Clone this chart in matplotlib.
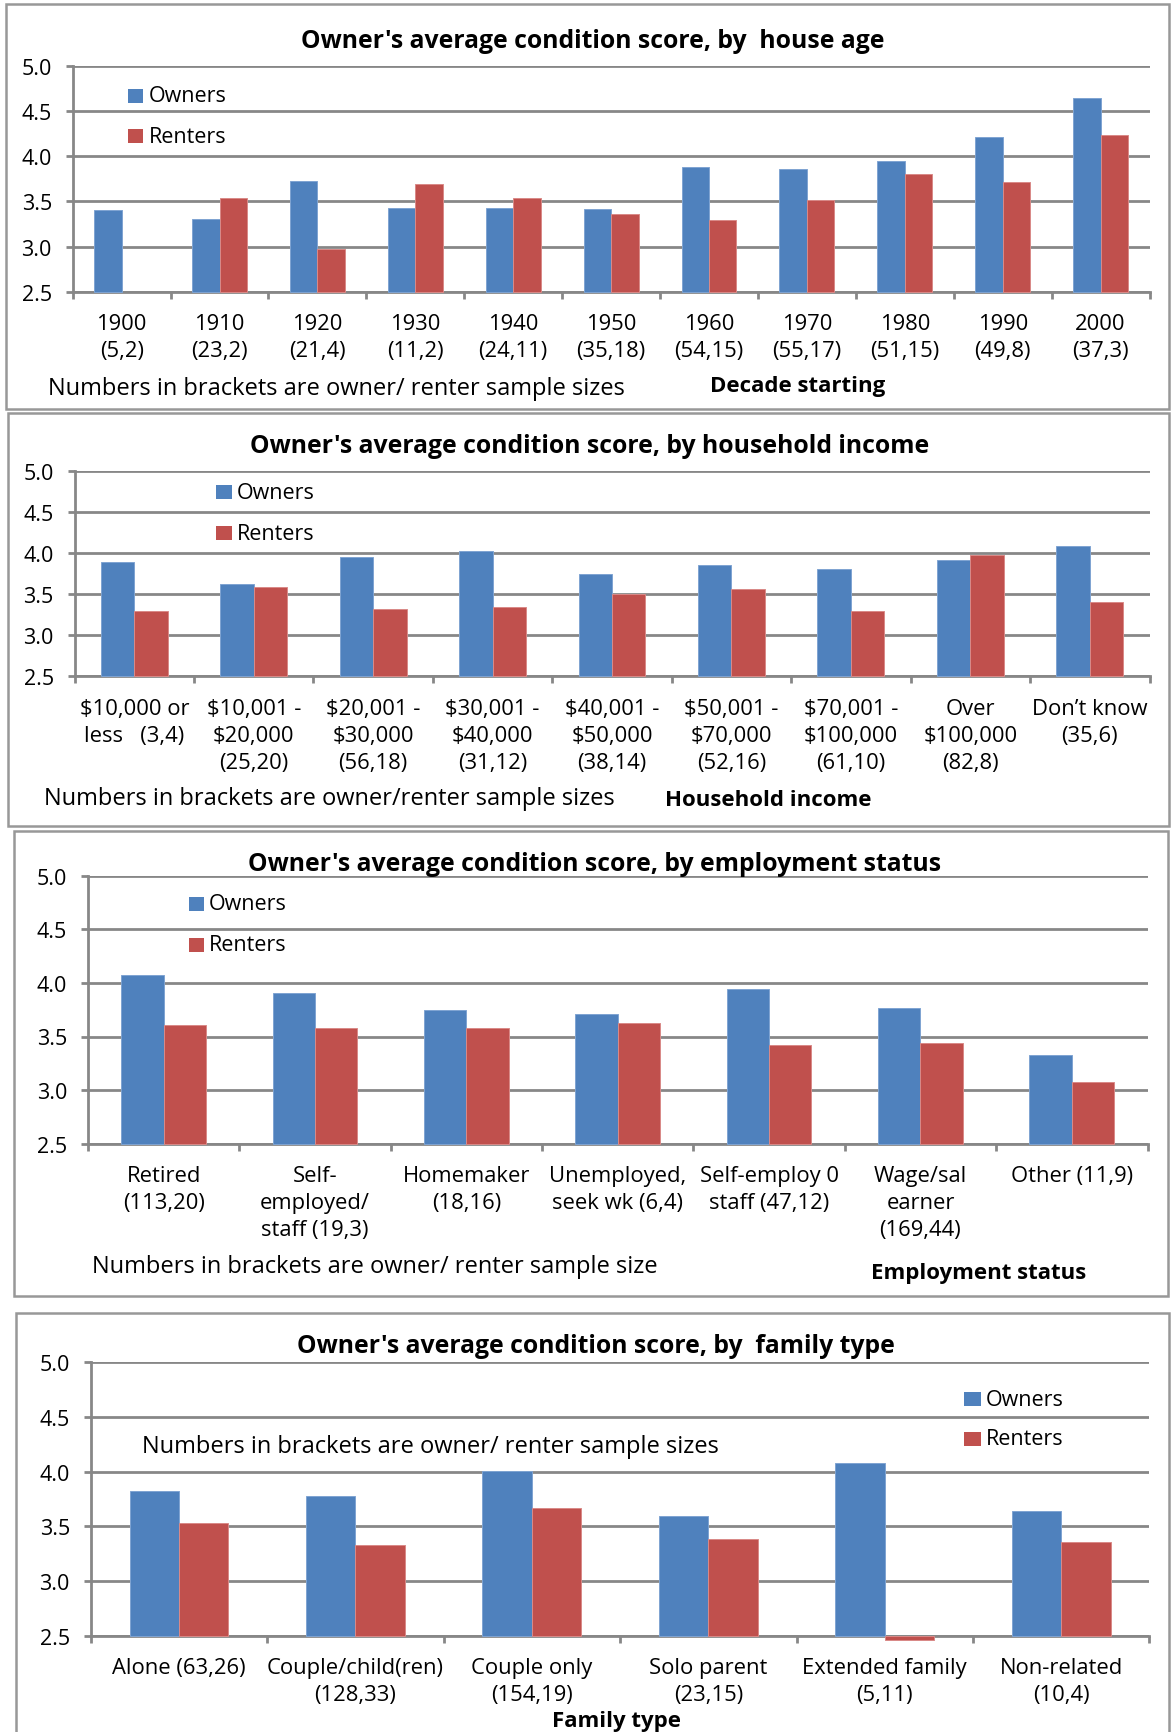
import numpy as np
import matplotlib
matplotlib.use("Agg")
import matplotlib.pyplot as plt
from matplotlib.patches import Rectangle

# ---------------------------------------------------------------- data
decade_labels = ["1900\n(5,2)", "1910\n(23,2)", "1920\n(21,4)", "1930\n(11,2)",
                 "1940\n(24,11)", "1950\n(35,18)", "1960\n(54,15)", "1970\n(55,17)",
                 "1980\n(51,15)", "1990\n(49,8)", "2000\n(37,3)"]
decade_owners = [3.40, 3.30, 3.73, 3.43, 3.43, 3.41, 3.88, 3.86, 3.95, 4.21, 4.64]
decade_renters = [np.nan, 3.54, 2.97, 3.69, 3.54, 3.36, 3.29, 3.51, 3.80, 3.71, 4.23]

income_labels = ["\\$10,000 or\nless   (3,4)", "\\$10,001 -\n\\$20,000\n(25,20)",
                 "\\$20,001 -\n\\$30,000\n(56,18)", "\\$30,001 -\n\\$40,000\n(31,12)",
                 "\\$40,001 -\n\\$50,000\n(38,14)", "\\$50,001 -\n\\$70,000\n(52,16)",
                 "\\$70,001 -\n\\$100,000\n(61,10)", "Over\n\\$100,000\n(82,8)",
                 "Don\u2019t know\n(35,6)"]
income_owners = [3.89, 3.62, 3.95, 4.02, 3.75, 3.85, 3.81, 3.91, 4.08]
income_renters = [3.30, 3.58, 3.32, 3.34, 3.50, 3.56, 3.30, 3.98, 3.40]

employ_labels = ["Retired\n(113,20)", "Self-\nemployed/\nstaff (19,3)", "Homemaker\n(18,16)",
                 "Unemployed,\nseek wk (6,4)", "Self-employ 0\nstaff (47,12)",
                 "Wage/sal\nearner\n(169,44)", "Other (11,9)"]
employ_owners = [4.07, 3.91, 3.75, 3.71, 3.94, 3.77, 3.33]
employ_renters = [3.61, 3.58, 3.58, 3.63, 3.42, 3.44, 3.08]

family_labels = ["Alone (63,26)", "Couple/child(ren)\n(128,33)", "Couple only\n(154,19)",
                 "Solo parent\n(23,15)", "Extended family\n(5,11)", "Non-related\n(10,4)"]
family_owners = [3.82, 3.78, 4.01, 3.59, 4.08, 3.64]
family_renters = [3.53, 3.33, 3.67, 3.38, 2.46, 3.36]

series_names = ["Owners", "Renters"]
y_ticks = [2.5, 3.0, 3.5, 4.0, 4.5, 5.0]

# ---------------------------------------------------------------- style
W, H, DPI = 1174, 1733, 100
plt.rcParams['font.family'] = ['Open Sans', 'DejaVu Sans']

OWNER_COLOR = '#4F81BD'
RENTER_COLOR = '#C0504D'
OWNER_EDGE = '#7FA4D2'
RENTER_EDGE = '#D98A88'
GRID_COLOR = '#878787'
FRAME_COLOR = '#989898'

YTICK_FS = 15.5
XTICK_FS = 15.8
TITLE_FS = 17.8
NOTE_FS = 17
XLABEL_FS = 16
LEGEND_FS = 15.5

fig = plt.figure(figsize=(W / DPI, H / DPI), dpi=DPI)


def fx(x):
    return x / W


def fy(y):
    return 1 - y / H


def add_frame(left, top, right, bottom):
    fig.add_artist(Rectangle((fx(left), fy(bottom)), (right - left) / W, (bottom - top) / H,
                             transform=fig.transFigure, fill=False,
                             edgecolor=FRAME_COLOR, linewidth=1.8))


def add_legend(sq_left, sq_right, y_owner, y_renter, text_x):
    sq_h = 14
    for name, yc, col in zip(series_names, (y_owner, y_renter), (OWNER_COLOR, RENTER_COLOR)):
        fig.add_artist(Rectangle((fx(sq_left), fy(yc + sq_h / 2)), (sq_right - sq_left) / W, sq_h / H,
                                 transform=fig.transFigure, facecolor=col, edgecolor='none'))
        fig.text(fx(text_x), fy(yc), name, fontsize=LEGEND_FS, ha='left', va='center')


def draw_panel(rect, labels, owners, renters, title, title_xy, note, note_xy,
               xlabel, xlabel_xy, label_pad=15.5):
    left, top, right, bottom = rect
    ax = fig.add_axes([fx(left), fy(bottom), (right - left) / W, (bottom - top) / H])
    n = len(labels)
    x = np.arange(n)
    w = 0.28
    owners = np.asarray(owners, dtype=float)
    renters = np.asarray(renters, dtype=float)
    base = y_ticks[0]

    ok = np.isfinite(owners)
    ax.bar(x[ok] - w / 2, owners[ok] - base, width=w, bottom=base, color=OWNER_COLOR,
           edgecolor=OWNER_EDGE, linewidth=0.7, clip_on=False, zorder=2)
    ok = np.isfinite(renters)
    ax.bar(x[ok] + w / 2, renters[ok] - base, width=w, bottom=base, color=RENTER_COLOR,
           edgecolor=RENTER_EDGE, linewidth=0.7, clip_on=False, zorder=2)

    ax.set_xlim(-0.5, n - 0.5)
    ax.set_ylim(y_ticks[0], y_ticks[-1])
    ax.set_yticks(y_ticks)
    ax.set_yticklabels([f"{v:.1f}" for v in y_ticks])
    ax.grid(axis='y', color=GRID_COLOR, linewidth=2.0, zorder=0)
    ax.set_axisbelow(True)
    for s in ('top', 'right'):
        ax.spines[s].set_visible(False)
    for s in ('left', 'bottom'):
        ax.spines[s].set_color(GRID_COLOR)
        ax.spines[s].set_linewidth(2.0)
        ax.spines[s].set_zorder(1)
    ax.tick_params(axis='y', length=5, width=2.0, color=GRID_COLOR,
                   labelsize=YTICK_FS, pad=10)

    ax.set_xticks(x)
    ax.set_xticklabels(labels, fontsize=XTICK_FS, linespacing=1.38, va='top')
    ax.tick_params(axis='x', which='major', length=0, pad=label_pad)
    ax.set_xticks(np.arange(n + 1) - 0.5, minor=True)
    ax.tick_params(axis='x', which='minor', length=5, width=2.0, color=GRID_COLOR)
    ax.set_facecolor('none')

    fig.text(fx(title_xy[0]), fy(title_xy[1]), title, fontsize=TITLE_FS,
             fontweight='bold', ha='center', va='center')
    fig.text(fx(note_xy[0]), fy(note_xy[1]), note, fontsize=NOTE_FS,
             ha='left', va='center')
    fig.text(fx(xlabel_xy[0]), fy(xlabel_xy[1]), xlabel, fontsize=XLABEL_FS,
             fontweight='bold', ha='center', va='center')
    return ax


# ---------------------------------------------------------------- panel frames
add_frame(5.5, 5, 1169, 410)
add_frame(7.5, 414, 1169, 827)
add_frame(13.5, 831.5, 1168, 1297)
add_frame(15.5, 1313.5, 1169, 1760)

# ---------------------------------------------------------------- house age
draw_panel((72.7, 66.7, 1149.5, 292.7), decade_labels, decade_owners, decade_renters,
           "Owner's average condition score, by  house age", (593, 41.7),
           "Numbers in brackets are owner/ renter sample sizes", (48, 389),
           "Decade starting", (798, 386.7))
add_legend(128, 143, 96.7, 137.3, 148.5)

# ---------------------------------------------------------------- household income
draw_panel((74.6, 471.7, 1149.5, 677.3), income_labels, income_owners, income_renters,
           "Owner's average condition score, by household income", (590, 446.7),
           "Numbers in brackets are owner/renter sample sizes", (44, 799.3),
           "Household income", (768.7, 800))
add_legend(216, 231.5, 493.3, 534.3, 236.5)

# ---------------------------------------------------------------- employment status
draw_panel((88, 876.7, 1147.5, 1144.7), employ_labels, employ_owners, employ_renters,
           "Owner's average condition score, by employment status", (594.6, 865),
           "Numbers in brackets are owner/ renter sample size", (91.8, 1266.7),
           "Employment status", (979, 1274))
add_legend(189.4, 204, 905, 945.7, 209)

# ---------------------------------------------------------------- family type
draw_panel((90.7, 1363.3, 1149.5, 1636.7), family_labels, family_owners, family_renters,
           "Owner's average condition score, by  family type", (595.5, 1346.7),
           "Numbers in brackets are owner/ renter sample sizes", (141.6, 1446.7),
           "Family type", (617, 1721.7))
add_legend(964, 980.7, 1400, 1440, 985.7)

fig.savefig("out.png", dpi=DPI, facecolor='white')
